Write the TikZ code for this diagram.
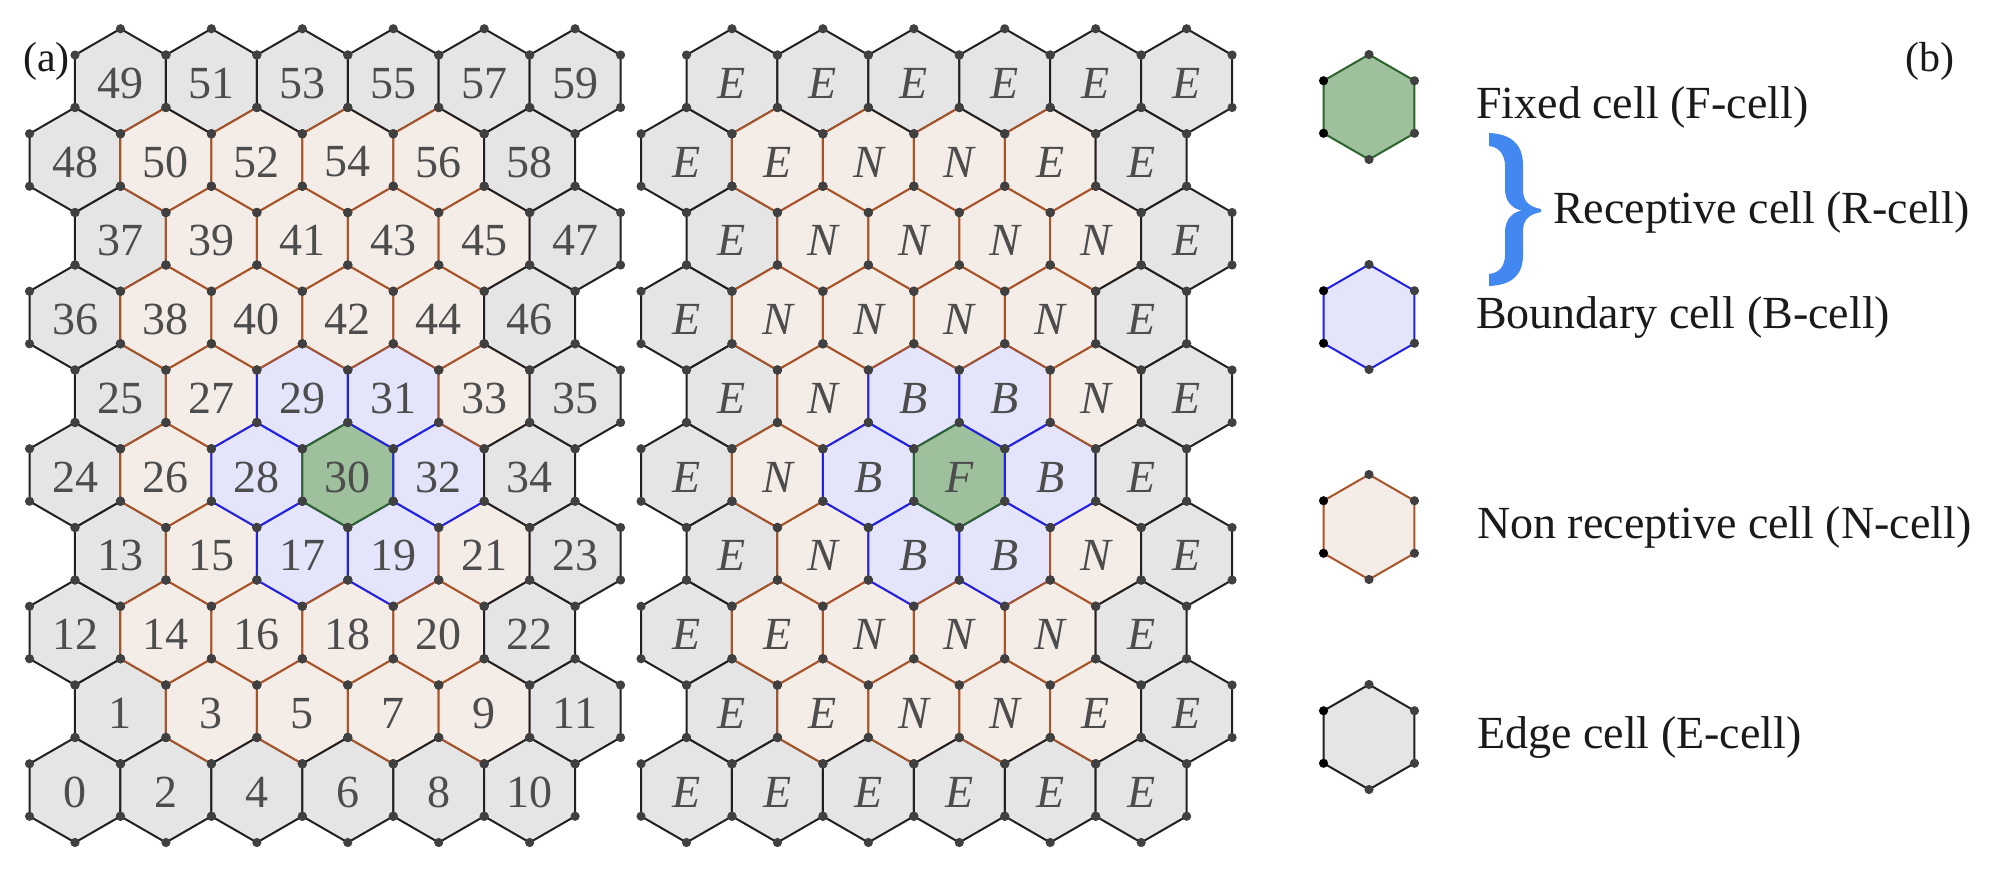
\documentclass[tikz,border=0pt]{standalone}
\usepackage{fontspec}
\setmainfont{Liberation Serif}
\definecolor{egray}{RGB}{229,229,229}
\definecolor{eline}{RGB}{32,32,32}
\definecolor{npeach}{RGB}{244,236,231}
\definecolor{nline}{RGB}{168,84,40}
\definecolor{blav}{RGB}{228,228,250}
\definecolor{bline}{RGB}{32,32,230}
\definecolor{fgreen}{RGB}{158,192,156}
\definecolor{fline}{RGB}{45,100,45}
\definecolor{dotc}{RGB}{64,64,64}
\definecolor{txtc}{RGB}{77,77,77}
\definecolor{legtxt}{RGB}{26,26,26}
\definecolor{bracec}{RGB}{66,136,240}
\def\cells{0/E/E,1/E/E,2/E/E,3/N/E,4/E/E,5/N/N,6/E/E,7/N/N,8/E/E,9/N/E,10/E/E,11/E/E,
12/E/E,13/E/E,14/N/E,15/N/N,16/N/N,17/B/B,18/N/N,19/B/B,20/N/N,21/N/N,22/E/E,23/E/E,
24/E/E,25/E/E,26/N/N,27/N/N,28/B/B,29/B/B,30/F/F,31/B/B,32/B/B,33/N/N,34/E/E,35/E/E,
36/E/E,37/E/E,38/N/N,39/N/N,40/N/N,41/N/N,42/N/N,43/N/N,44/N/N,45/N/N,46/E/E,47/E/E,
48/E/E,49/E/E,50/N/E,51/E/E,52/N/N,53/E/E,54/N/N,55/E/E,56/N/E,57/E/E,58/E/E,59/E/E}
\begin{document}
\begin{tikzpicture}[x=1pt,y=-1pt,
  cellE/.style={fill=egray,draw=eline,line width=2pt,line join=round},
  cellN/.style={fill=npeach,draw=nline,line width=2pt,line join=round},
  cellB/.style={fill=blav,draw=bline,line width=2pt,line join=round},
  cellF/.style={fill=fgreen,draw=fline,line width=2pt,line join=round},
  dot/.style={fill=dotc},
  numlab/.style={text=txtc,inner sep=0pt,font=\fontsize{46}{46}\selectfont},
  letlab/.style={text=txtc,inner sep=0pt,font=\fontsize{46}{46}\selectfont\itshape},
  legtext/.style={text=legtxt,inner sep=0pt,anchor=base west,font=\fontsize{46}{46}\selectfont},
  paneltag/.style={text=legtxt,inner sep=0pt,anchor=base west,font=\fontsize{42}{42}\selectfont}]
\useasboundingbox (0,0) rectangle (1995,871);
% cells, drawn in numeric order
\foreach \nn/\ty/\lb in \cells {
  \pgfmathsetmacro\row{2*int(\nn/12)+mod(\nn,2)}
  \pgfmathsetmacro\col{int(mod(\nn,12)/2)}
  \pgfmathsetmacro\ax{75+90.93*\col+45.465*mod(\nn,2)}
  \pgfmathsetmacro\bx{\ax+611.5}
  \pgfmathsetmacro\cy{790-78.75*\row}
  \draw[cell\ty] (\ax,\cy) +(90:52.5) -- +(30:52.5) -- +(-30:52.5) -- +(-90:52.5) -- +(-150:52.5) -- +(150:52.5) -- cycle;
  \draw[cell\ty] (\bx,\cy) +(90:52.5) -- +(30:52.5) -- +(-30:52.5) -- +(-90:52.5) -- +(-150:52.5) -- +(150:52.5) -- cycle;
}
% vertex dots
\foreach \nn/\ty/\lb in \cells {
  \pgfmathsetmacro\row{2*int(\nn/12)+mod(\nn,2)}
  \pgfmathsetmacro\col{int(mod(\nn,12)/2)}
  \pgfmathsetmacro\ax{75+90.93*\col+45.465*mod(\nn,2)}
  \pgfmathsetmacro\bx{\ax+611.5}
  \pgfmathsetmacro\cy{790-78.75*\row}
  \foreach \a in {90,30,-30,-90,-150,150} {
    \fill[dot] (\ax,\cy) ++(\a:52.5) circle (4.6);
    \fill[dot] (\bx,\cy) ++(\a:52.5) circle (4.6);
  }
}
% labels
\foreach \nn/\ty/\lb in \cells {
  \pgfmathsetmacro\row{2*int(\nn/12)+mod(\nn,2)}
  \pgfmathsetmacro\col{int(mod(\nn,12)/2)}
  \pgfmathsetmacro\ax{75+90.93*\col+45.465*mod(\nn,2)}
  \pgfmathsetmacro\bx{\ax+611.5}
  \pgfmathsetmacro\cy{790-78.75*\row+2}
  \node[numlab] (a\nn) at (\ax,\cy) {\nn};
  \node[letlab] (b\nn) at (\bx,\cy) {\lb};
}
% legend hexagons
\foreach \yy/\ty in {107/F,317/B,527/N,737/E} {
  \draw[cell\ty] (1369,\yy) +(90:52.5) -- +(30:52.5) -- +(-30:52.5) -- +(-90:52.5) -- +(-150:52.5) -- +(150:52.5) -- cycle;
  \foreach \a in {90,30,-30,-90} \fill[dot] (1369,\yy) ++(\a:52.5) circle (4.6);
  \foreach \a in {-150,150} \fill[black] (1369,\yy) ++(\a:52.5) circle (4.6);
}
% legend texts
\node[legtext] (tF) at (1476,118) {Fixed cell (F-cell)};
\node[legtext] (tR) at (1553,223) {Receptive cell (R-cell)};
\node[legtext] (tB) at (1476,328) {Boundary cell (B-cell)};
\node[legtext] (tN) at (1477,538) {Non receptive cell (N-cell)};
\node[legtext] (tE) at (1477,748) {Edge cell (E-cell)};
% brace
\fill[bracec] (1489,133) .. controls (1512,134) and (1523,145) .. (1523,165)
  -- (1523,190) .. controls (1523,202) and (1530,207) .. (1541,209)
  -- (1541,212) .. controls (1530,214) and (1523,219) .. (1523,231)
  -- (1523,255) .. controls (1523,275) and (1512,285) .. (1489,286)
  -- (1489,274) .. controls (1500,273) and (1505,265) .. (1505,255)
  -- (1505,232) .. controls (1505,220) and (1512,212) .. (1522,210.5)
  .. controls (1512,209) and (1505,201) .. (1505,189)
  -- (1505,166) .. controls (1505,156) and (1500,147) .. (1489,146) -- cycle;
% panel tags
\node[paneltag] (pa) at (23,71) {(a)};
\node[paneltag] (pb) at (1905,71) {(b)};
\end{tikzpicture}
\end{document}
